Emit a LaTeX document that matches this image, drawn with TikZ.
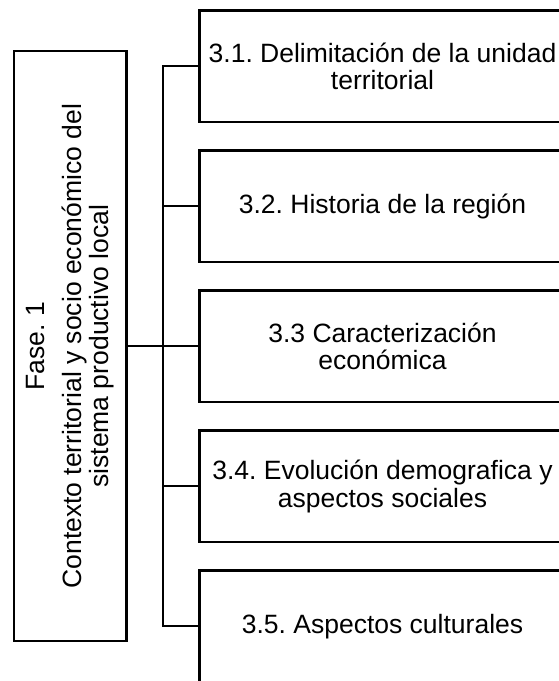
\documentclass[tikz,border=0pt]{standalone}
\usepackage{fontspec}
\setmainfont{Liberation Sans}
\frenchspacing
\begin{document}
\begin{tikzpicture}[x=1pt,y=-1pt,
  every node/.style={font=\fontsize{26.5pt}{27.5pt}\selectfont\frenchspacing, inner sep=0pt},
  conn/.style={line width=2.2pt, line join=miter},
  subbox/.style={draw, line width=2.2pt, minimum width=366pt, minimum height=111.5pt, align=center},
  phasebox/.style={draw, line width=2.2pt, minimum width=112.5pt, minimum height=590pt}]
\useasboundingbox (0,0) rectangle (558,681);
\node[phasebox] (fase) at (70.3,346.25) {};
\node[rotate=90, align=center] (fasetxt) at (fase.center) {Fase. 1\\[9pt]Contexto territorial y socio económico del\\sistema productivo local};
\node[subbox] (b1) at (382.5,66.25) {3.1. Delimitación de la unidad\\territorial};
\node[subbox] (b2) at (382.5,206.25) {3.2. Historia de la región};
\node[subbox] (b3) at (382.5,346.25) {3.3 Caracterización\\económica};
\node[subbox] (b4) at (382.5,486.25) {3.4. Evolución demografica y\\aspectos sociales};
\node[subbox] (b5) at (382.5,626.25) {3.5. Aspectos culturales};
\coordinate (ttop) at (163,66.25);
\coordinate (tbot) at (163,626.25);
\draw[conn] (b1.west) -- (ttop) -- (tbot) -- (b5.west);
\draw[conn] (fase.east) -- (b3.west);
\draw[conn] (b2.west) -- (b2.west -| ttop);
\draw[conn] (b4.west) -- (b4.west -| ttop);
\end{tikzpicture}
\end{document}
